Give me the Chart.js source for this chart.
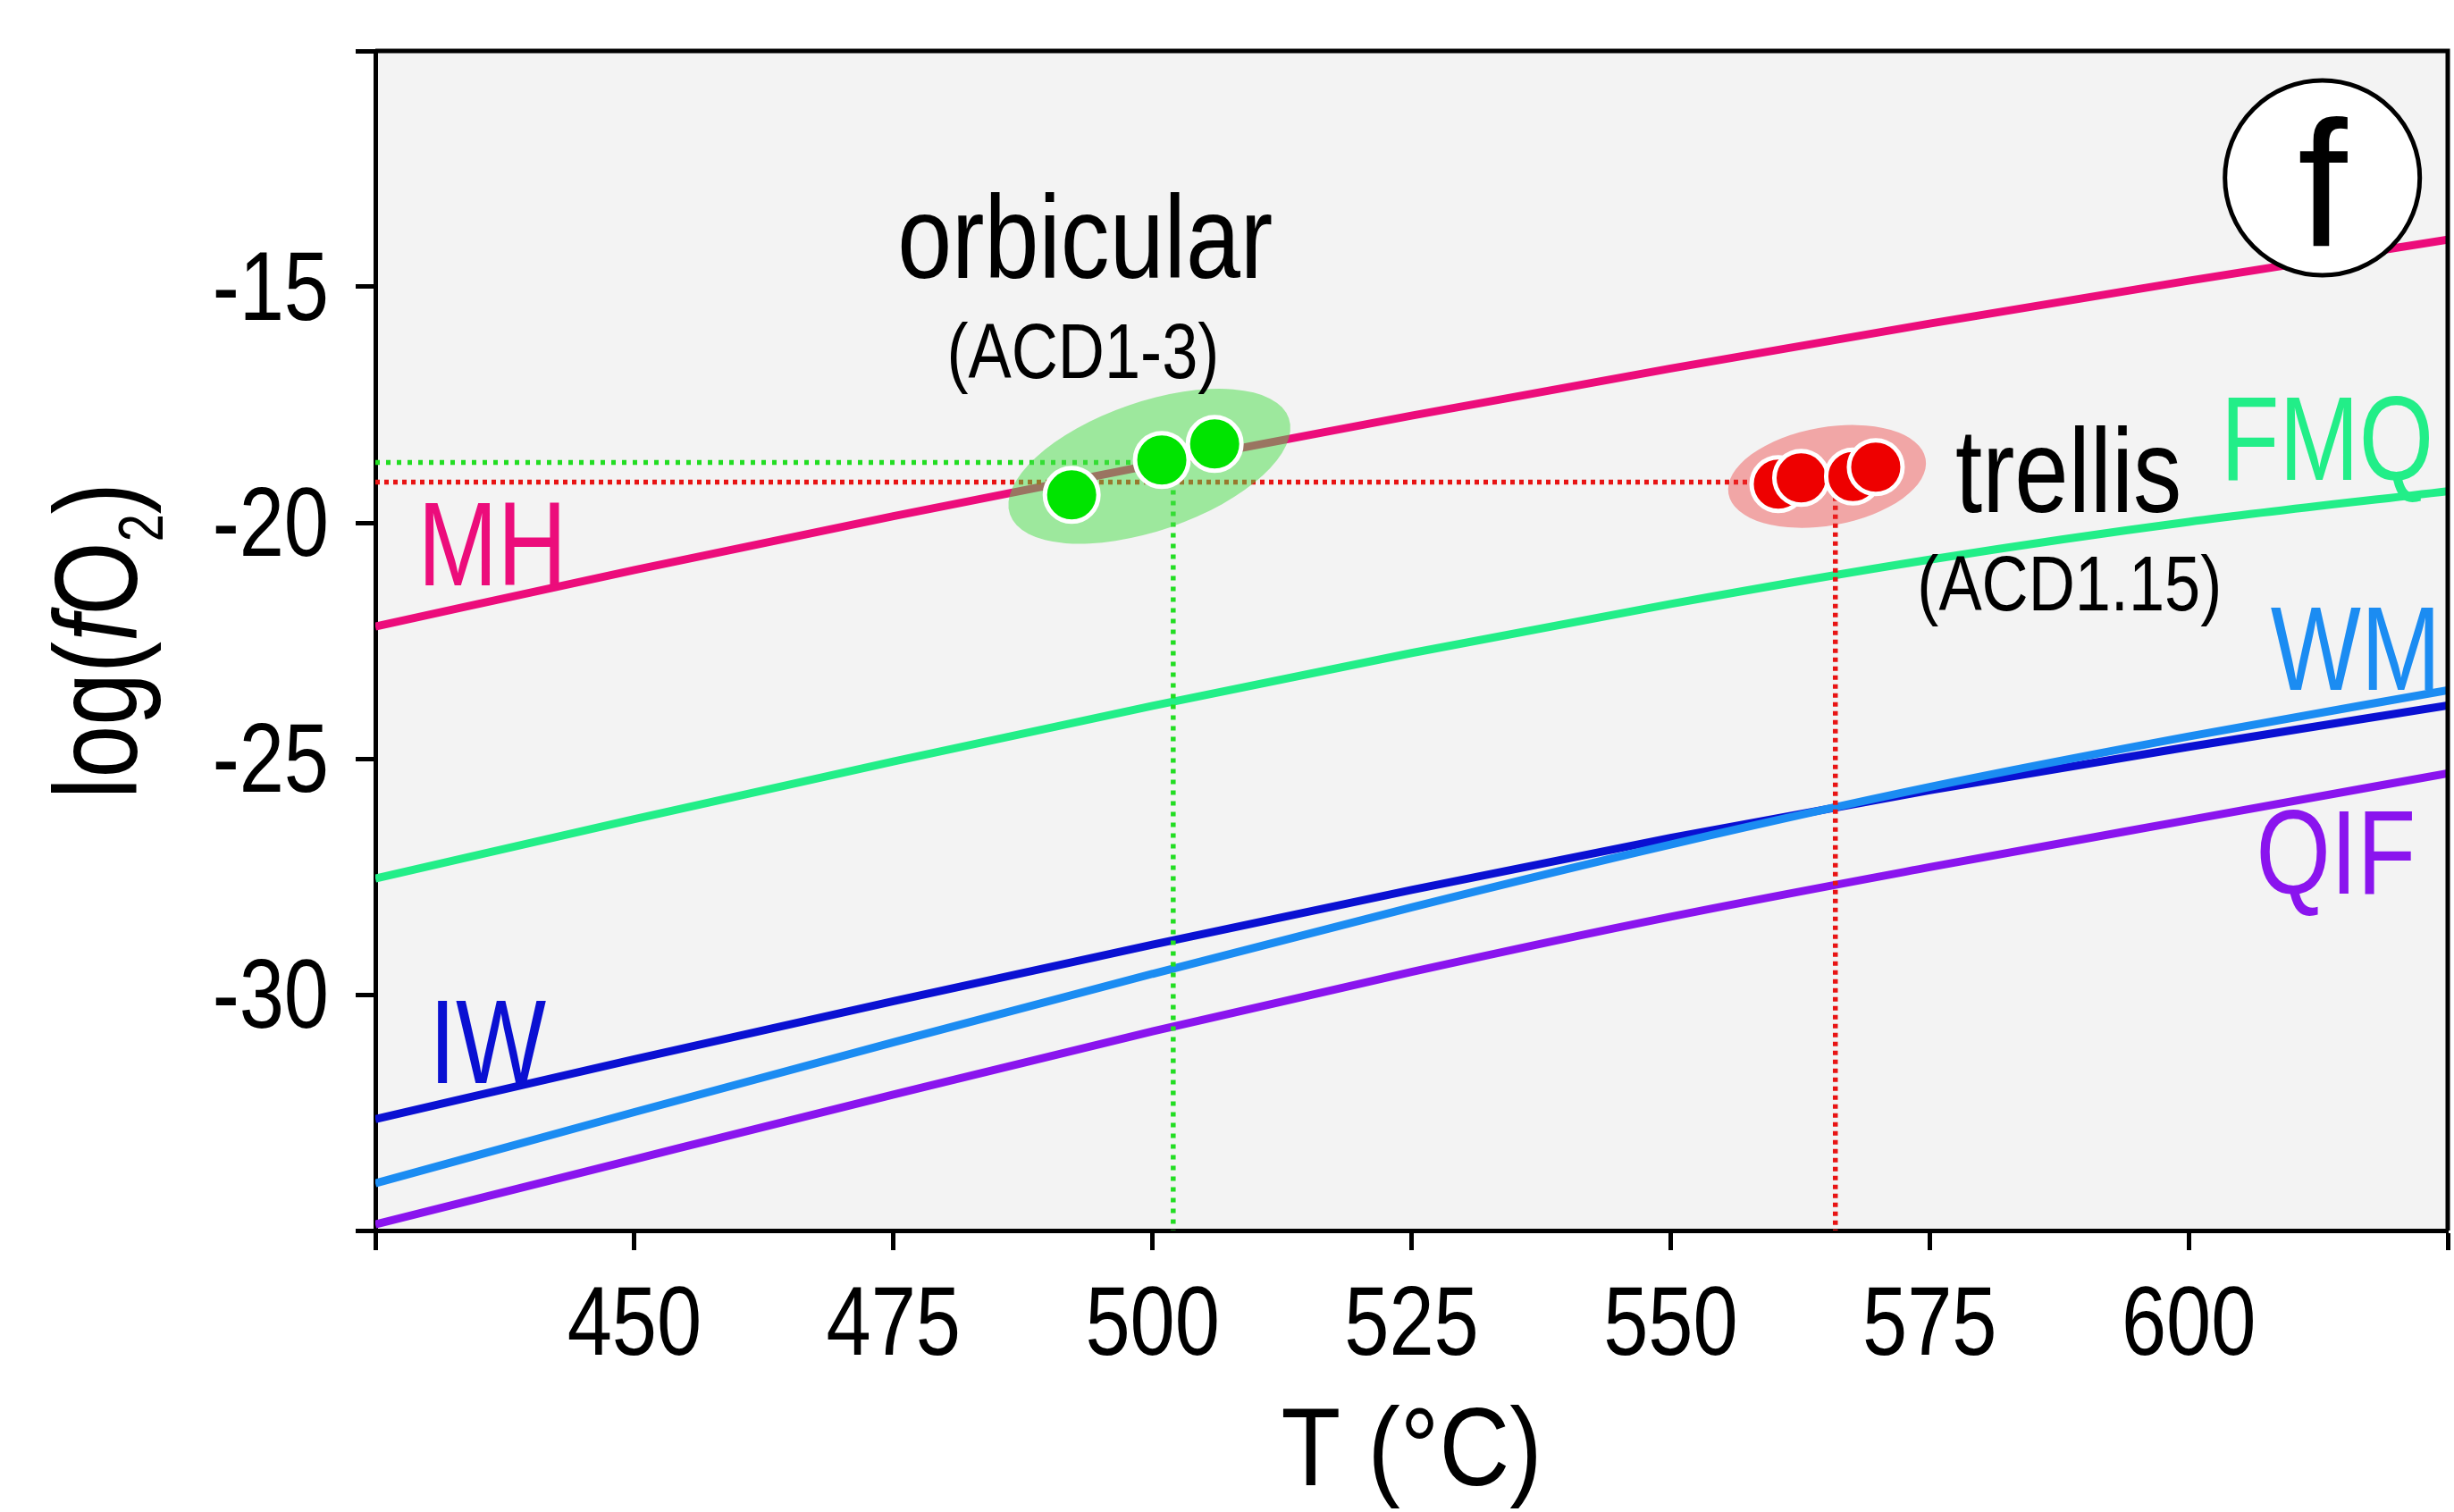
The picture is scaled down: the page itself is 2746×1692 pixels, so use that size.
<!DOCTYPE html>
<html>
<head>
<meta charset="utf-8">
<script src="https://cdn.jsdelivr.net/npm/chart.js@4.4.1/dist/chart.umd.min.js"></script>
<style>
  html, body { margin: 0; padding: 0; background: #fff; }
  canvas { display: block; }
</style>
</head>
<body>
<canvas id="fo2Chart" width="2746" height="1692"></canvas>
<script>
// temperature grid (°C) for the buffer curves
const temps  = [425, 450, 475, 500, 525, 550, 575, 600, 625];
// log(fO2) of each buffer at those temperatures
const bufMH  = [-22.20, -21.00, -19.86, -18.77, -17.73, -16.73, -15.78, -14.87, -14.00];
const bufFMQ = [-27.54, -26.28, -25.06, -23.88, -22.76, -21.72, -20.78, -19.98, -19.33];
const bufWM  = [-34.00, -32.49, -31.01, -29.56, -28.15, -26.82, -25.60, -24.53, -23.55];
const bufIW  = [-32.64, -31.37, -30.14, -28.94, -27.78, -26.68, -25.67, -24.75, -23.87];
const bufQIF = [-34.87, -33.49, -32.12, -30.78, -29.52, -28.35, -27.30, -26.30, -25.31];

// magnetite samples
const orbicularT   = [492.2, 500.9, 506.0];
const orbicularFO2 = [-19.41, -18.67, -18.33];
const trellisT     = [560.4, 562.6, 567.6, 569.8];
const trellisFO2   = [-19.18, -19.05, -19.02, -18.82];

// dotted read-off lines (orbicular, trellis)
const guideT   = [502.0, 565.9];
const guideFO2 = [-18.72, -19.14];

const xTickLabels = [450, 475, 500, 525, 550, 575, 600];
const yTickLabels = [-15, -20, -25, -30];

const colors = {
  MH: '#EC0C7B', FMQ: '#22EE88', WM: '#1B8CF2', IW: '#0A10D2', QIF: '#8A14EE'
};

const FONT = "'Liberation Sans', Arial, sans-serif";

const pts = (xs, ys) => xs.map((x, i) => ({ x: x, y: ys[i] }));
const mean = a => a.reduce((s, v) => s + v, 0) / a.length;

function curve(name, values) {
  return {
    label: name,
    data: pts(temps, values),
    showLine: true,
    borderColor: colors[name],
    borderWidth: 9,
    pointRadius: 0,
    cubicInterpolationMode: 'monotone',
    order: 3
  };
}

function guide(i, color, dash) {
  return {
    label: 'guide' + i,
    data: [
      { x: 425, y: guideFO2[i] },
      { x: guideT[i], y: guideFO2[i] },
      { x: guideT[i], y: -35 }
    ],
    showLine: true,
    borderColor: color,
    borderWidth: 5.5,
    borderDash: dash,
    pointRadius: 0,
    order: 2
  };
}

const datasets = [
  curve('MH', bufMH), curve('FMQ', bufFMQ), curve('WM', bufWM),
  curve('IW', bufIW), curve('QIF', bufQIF),
  guide(0, '#22DD22', [5, 7]),
  guide(1, '#E81414', [5, 5]),
  {
    label: 'orbicular',
    data: pts(orbicularT, orbicularFO2),
    backgroundColor: '#00E400',
    borderColor: '#FFFFFF',
    borderWidth: 5,
    pointRadius: 30,
    order: 1,
    blob: { a: 165, b: 72, angle: -19, fill: 'rgba(72,222,72,0.5)' }
  },
  {
    label: 'trellis',
    data: pts(trellisT, trellisFO2),
    backgroundColor: '#EE0000',
    borderColor: '#FFFFFF',
    borderWidth: 5,
    pointRadius: 30,
    order: 1,
    blob: { a: 112, b: 55, angle: -10, fill: 'rgba(237,50,50,0.4)' }
  }
];

// text placed in data coordinates
const notes = [
  { text: 'MH',  x: 429.1, y: -21.33, size: 134, color: colors.MH,  align: 'left', sx: 0.8 },
  { text: 'FMQ', x: 603.1, y: -19.09, size: 134, color: colors.FMQ, align: 'left', sx: 0.8 },
  { text: 'WM',  x: 607.9, y: -23.54, size: 134, color: colors.WM,  align: 'left', sx: 0.8 },
  { text: 'IW',  x: 430.2, y: -31.87, size: 134, color: colors.IW,  align: 'left', sx: 0.8 },
  { text: 'QIF', x: 606.5, y: -27.86, size: 134, color: colors.QIF, align: 'left', sx: 0.8 },
  { text: 'orbicular', x: 493.5, y: -14.82, size: 132, color: '#000', align: 'center', sx: 0.83 },
  { text: '(ACD1-3)',  x: 493.3, y: -16.94, size: 88,  color: '#000', align: 'center', sx: 0.82 },
  { text: 'trellis',   x: 588.4, y: -19.78, size: 134, color: '#000', align: 'center', sx: 0.81 },
  { text: '(ACD1.15)', x: 588.5, y: -21.86, size: 88,  color: '#000', align: 'center', sx: 0.82 }
];
const panelTag = { text: 'f', x: 612.9, y: -12.69, radius: 109, size: 200 };
const tickFont = { size: 110, sx: 0.82 };

function drawText(ctx, str, x, y, o) {
  ctx.save();
  ctx.translate(x, y);
  ctx.scale(o.sx || 1, 1);
  ctx.font = (o.style ? o.style + ' ' : '') + o.size + 'px ' + FONT;
  ctx.fillStyle = o.color || '#000';
  ctx.textAlign = o.align || 'left';
  ctx.textBaseline = 'alphabetic';
  ctx.fillText(str, 0, 0);
  ctx.restore();
}

const decor = {
  id: 'decor',
  beforeDraw(chart) {
    const { ctx, chartArea: a } = chart;
    ctx.save();
    ctx.fillStyle = '#FFFFFF';
    ctx.fillRect(0, 0, chart.width, chart.height);
    ctx.fillStyle = '#F3F3F3';
    ctx.fillRect(a.left, a.top, a.right - a.left, a.bottom - a.top);
    ctx.restore();
  },
  beforeDatasetDraw(chart, args) {
    const ds = chart.data.datasets[args.index];
    if (!ds.blob) return;
    const xs = chart.scales.x, ys = chart.scales.y;
    const cx = xs.getPixelForValue(mean(ds.data.map(p => p.x)));
    const cy = ys.getPixelForValue(mean(ds.data.map(p => p.y)));
    const ctx = chart.ctx;
    ctx.save();
    ctx.beginPath();
    ctx.ellipse(cx, cy, ds.blob.a, ds.blob.b, ds.blob.angle * Math.PI / 180, 0, 2 * Math.PI);
    ctx.fillStyle = ds.blob.fill;
    ctx.fill();
    ctx.restore();
  },
  afterDraw(chart) {
    const { ctx, chartArea: a } = chart;
    const xs = chart.scales.x, ys = chart.scales.y;

    // top and right frame
    ctx.save();
    ctx.strokeStyle = '#000';
    ctx.lineWidth = 5;
    ctx.beginPath();
    ctx.moveTo(a.left, a.top);
    ctx.lineTo(a.right, a.top);
    ctx.lineTo(a.right, a.bottom);
    ctx.stroke();
    ctx.restore();

    // tick labels (condensed)
    xTickLabels.forEach(v => {
      drawText(ctx, String(v), xs.getPixelForValue(v), a.bottom + 139,
        { size: tickFont.size, sx: tickFont.sx, align: 'center' });
    });
    yTickLabels.forEach(v => {
      drawText(ctx, String(v), a.left - 52, ys.getPixelForValue(v) + 37,
        { size: tickFont.size, sx: tickFont.sx, align: 'right' });
    });

    // panel tag
    const px = xs.getPixelForValue(panelTag.x), py = ys.getPixelForValue(panelTag.y);
    ctx.save();
    ctx.beginPath();
    ctx.arc(px, py, panelTag.radius, 0, 2 * Math.PI);
    ctx.fillStyle = '#FFFFFF';
    ctx.fill();
    ctx.lineWidth = 5;
    ctx.strokeStyle = '#000';
    ctx.stroke();
    ctx.restore();
    drawText(ctx, panelTag.text, px, py + 76, { size: panelTag.size, align: 'center' });

    notes.forEach(n => {
      drawText(ctx, n.text, xs.getPixelForValue(n.x), ys.getPixelForValue(n.y), n);
    });

    // x title
    drawText(ctx, 'T (°C)', (a.left + a.right) / 2, chart.height - 30,
      { size: 124, align: 'center', sx: 0.88 });

    // y title: log(fO2) with italic f and subscript 2
    const size = 132, sub = 70;
    const parts = [
      { t: 'log(', f: size + 'px ' + FONT, dy: 0 },
      { t: 'f', f: 'italic ' + size + 'px ' + FONT, dy: 0 },
      { t: 'O', f: size + 'px ' + FONT, dy: 0 },
      { t: '2', f: sub + 'px ' + FONT, dy: 29 },
      { t: ')', f: size + 'px ' + FONT, dy: 0 }
    ];
    ctx.save();
    ctx.translate(153, (a.top + a.bottom) / 2);
    ctx.rotate(-Math.PI / 2);
    ctx.scale(0.8, 1);
    ctx.fillStyle = '#000';
    ctx.textBaseline = 'alphabetic';
    ctx.textAlign = 'left';
    let total = 0;
    parts.forEach(p => { ctx.font = p.f; p.w = ctx.measureText(p.t).width; total += p.w; });
    let cx = -total / 2;
    parts.forEach(p => { ctx.font = p.f; ctx.fillText(p.t, cx, p.dy); cx += p.w; });
    ctx.restore();
  }
};

const axisCommon = {
  border: { display: true, color: '#000', width: 5 },
  grid: {
    display: true, drawOnChartArea: false, drawTicks: true,
    tickLength: 22, tickWidth: 5, tickColor: '#000', color: '#000'
  }
};

new Chart(document.getElementById('fo2Chart').getContext('2d'), {
  type: 'scatter',
  data: { datasets: datasets },
  plugins: [decor],
  options: {
    responsive: false,
    animation: false,
    devicePixelRatio: 1,
    layout: { autoPadding: false, padding: { top: 57, right: 7, left: 0, bottom: 0 } },
    plugins: { legend: { display: false }, tooltip: { enabled: false } },
    scales: {
      x: Object.assign({}, axisCommon, {
        type: 'linear', min: 425, max: 625,
        ticks: { stepSize: 25, autoSkip: false, maxRotation: 0, display: false },
        afterFit: s => { s.height = 315; s.paddingLeft = 0; s.paddingRight = 0; }
      }),
      y: Object.assign({}, axisCommon, {
        type: 'linear', min: -35, max: -10,
        ticks: { stepSize: 5, autoSkip: false, display: false },
        afterFit: s => { s.width = 420; s.paddingTop = 0; s.paddingBottom = 0; }
      })
    }
  }
});
</script>
</body>
</html>
